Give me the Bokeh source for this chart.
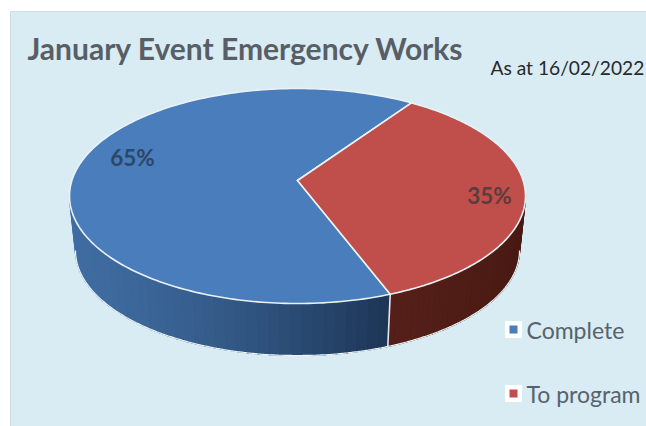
import numpy as np
from bokeh.plotting import figure
from bokeh.models import Range1d
from bokeh.core.properties import value
from bokeh.embed import file_html
from bokeh.resources import INLINE

TITLE = "January Event Emergency Works"
NOTE = "As at 16/02/2022"
categories = ["Complete", "To program"]
values = [65, 35]
top_colors = ["#4a7dbb", "#c04f4c"]
wall_left = ["#3f6ca1", "#541f18"]
wall_right = ["#1c3454", "#481a13"]
label_colors = ["#2d4768", "#5c3b3d"]
FONT = value("Lato")

W, H = 646, 426
p = figure(width=W, height=H, output_backend="svg", toolbar_location=None,
           x_range=Range1d(0, W), y_range=Range1d(H, 0),
           min_border=0, outline_line_color=None, border_fill_color="white",
           background_fill_color="white")
p.axis.visible = False
p.grid.visible = False
p.quad(left=10, right=W + 5, top=11, bottom=H + 5, fill_color="#d9ebf3",
       line_color="#cfdde3", line_width=1)

# pie geometry in the picture's own coordinates
cx, cy, rx, ry = 297, 195.5, 228, 107.5      # top face
bx, by, brx, bry = 297, 250, 222, 105        # bottom rim
vx, vy = 297, 180                            # apex of the slices
start = 60.0                                 # boundary between the slices, degrees


def top_pt(a):
    r = np.radians(a)
    return cx + rx * np.cos(r), cy - ry * np.sin(r)


def bot_pt(a):
    r = np.radians(a)
    return bx + brx * np.cos(r), by - bry * np.sin(r)


share = np.array(values) / sum(values) * 360
arcs = [(start, start + share[0]), (start + share[0], start + 360)]


def hex_mix(c1, c2, f):
    a = [int(c1[i:i + 2], 16) for i in (1, 3, 5)]
    b = [int(c2[i:i + 2], 16) for i in (1, 3, 5)]
    return "#%02x%02x%02x" % tuple(round(x + (y - x) * f) for x, y in zip(a, b))


# side wall: narrow strips shaded from left to right
for (a0, a1), cl, cr in zip(arcs, wall_left, wall_right):
    lo, hi = max(a0, 180), min(a1, 360)
    edges = np.linspace(lo, hi, 41)
    xs, ys, cols = [], [], []
    x0 = top_pt(lo)[0]
    x1 = top_pt(hi)[0]
    for s, e in zip(edges[:-1], edges[1:]):
        tx0, ty0 = top_pt(s)
        tx1, ty1 = top_pt(e + 0.4)
        bx0, by0 = bot_pt(s)
        bx1, by1 = bot_pt(e + 0.4)
        xs.append([tx0, tx1, bx1, bx0])
        ys.append([ty0, ty1, by1, by0])
        cols.append(hex_mix(cl, cr, ((tx0 - x0) / (x1 - x0)) ** 1.4))
    p.patches(xs, ys, fill_color=cols, line_color=cols, line_width=1.2)

# white rim lines on the wall
wall_angles = np.linspace(180, 360, 200)
bxs, bys = bot_pt(wall_angles)
p.line(bxs, bys, line_color="#eef5f8", line_width=1.2)
div = start + share[0]
p.line([top_pt(div)[0], bot_pt(div)[0]], [top_pt(div)[1], bot_pt(div)[1]],
       line_color="#e4e9ee", line_width=1.6)

# top faces
for (a0, a1), c in zip(arcs, top_colors):
    ang = np.linspace(a0, a1, 200)
    tx, ty = top_pt(ang)
    p.patch(np.r_[vx, tx], np.r_[vy, ty], fill_color=c,
            line_color="#eaf2f6", line_width=1.6, line_join="miter")

# percentage labels
lab_x = [132, 489]
lab_y = [157, 195]
p.text(lab_x, lab_y, text=[f"{v}%" for v in values], text_font=FONT,
       text_font_style="bold", text_font_size="22.5px", text_color=label_colors,
       text_align="center", text_baseline="middle")

# titles
p.text([27], [47], text=[TITLE], text_font=FONT, text_font_style="bold",
       text_font_size="30px", text_color="#585e65", text_align="left",
       text_baseline="middle")
p.text([490], [67], text=[NOTE], text_font=FONT, text_font_size="19.2px",
       text_color="#26292c", text_align="left", text_baseline="middle")

# legend
leg_y = [329, 393]
p.scatter([513, 513], leg_y, marker="square", size=17, fill_color="white", line_color=None)
p.scatter([513, 513], leg_y, marker="square", size=8, fill_color=top_colors, line_color=None)
p.text([526, 526], leg_y, text=categories, text_font=FONT, text_font_size="23px",
       text_color="#56636e", text_align="left", text_baseline="middle")

open("out.html", "w").write(file_html(p, INLINE))
